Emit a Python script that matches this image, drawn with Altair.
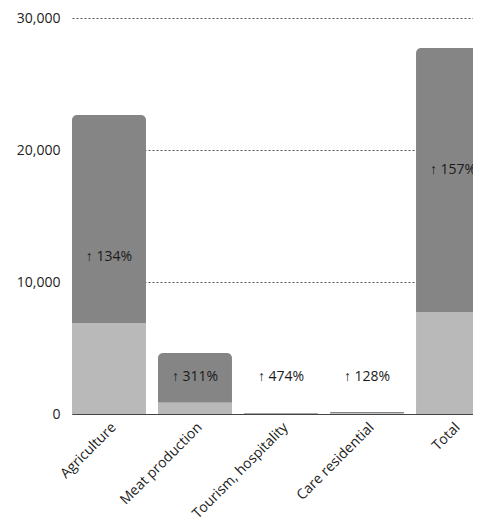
import altair as alt
import pandas as pd

categories = ["Agriculture", "Meat production", "Tourism, hospitality", "Care residential", "Total"]
base_values = [6900, 850, 15, 60, 7730]
total_values = [22650, 4620, 70, 160, 27730]
change_labels = ["↑ 134%", "↑ 311%", "↑ 474%", "↑ 128%", "↑ 157%"]
label_values = [11900, 2800, 2800, 2800, 18500]

df = pd.DataFrame({
    "category": categories,
    "base": base_values,
    "total": total_values,
    "label": change_labels,
    "label_y": label_values,
})

FONT = "Open Sans"

x_scale = alt.Scale(paddingInner=0.14, paddingOuter=0, range=[0, 418])

x = alt.X("category:N", sort=categories, title=None, scale=x_scale,
          axis=alt.Axis(labelAngle=-45, labelFontSize=14, labelColor="#222222",
                        labelFont=FONT, ticks=False, domain=True, domainColor="#444444",
                        labelPadding=6))

y_scale = alt.Scale(domain=[0, 30000], nice=False)

upper = alt.Chart(df).mark_bar(color="#858585", cornerRadiusTopLeft=5,
                               cornerRadiusTopRight=5, clip=True).encode(
    x=x,
    y=alt.Y("total:Q", scale=y_scale, title=None,
            axis=alt.Axis(values=[0, 10000, 20000, 30000],
                          labelExpr="format(datum.value, ',')", labelFontSize=14,
                          labelColor="#222222", labelFont=FONT, ticks=False, domain=False,
                          labelPadding=12, grid=True, gridColor="#555555",
                          gridDash=[2, 2], gridWidth=1)),
    y2="base:Q",
)

lower = alt.Chart(df).mark_bar(color="#b9b9b9", clip=True).encode(
    x=alt.X("category:N", sort=categories),
    y=alt.Y("base:Q", scale=y_scale),
    y2=alt.datum(0),
)

text = alt.Chart(df).mark_text(fontSize=14, color="#1a1a1a", font=FONT).encode(
    x=alt.X("category:N", sort=categories),
    y=alt.Y("label_y:Q", scale=y_scale),
    text="label:N",
)

chart = alt.layer(upper, lower, text).properties(
    width=401, height=396,
    autosize=alt.AutoSizeParams(type="none"),
    padding={"left": 64, "top": 10, "right": 0, "bottom": 104},
).configure_view(stroke=None).configure_axisY(
    gridOpacity=1
)

chart.save("out.html", embed_options={"renderer": "svg", "actions": False})
